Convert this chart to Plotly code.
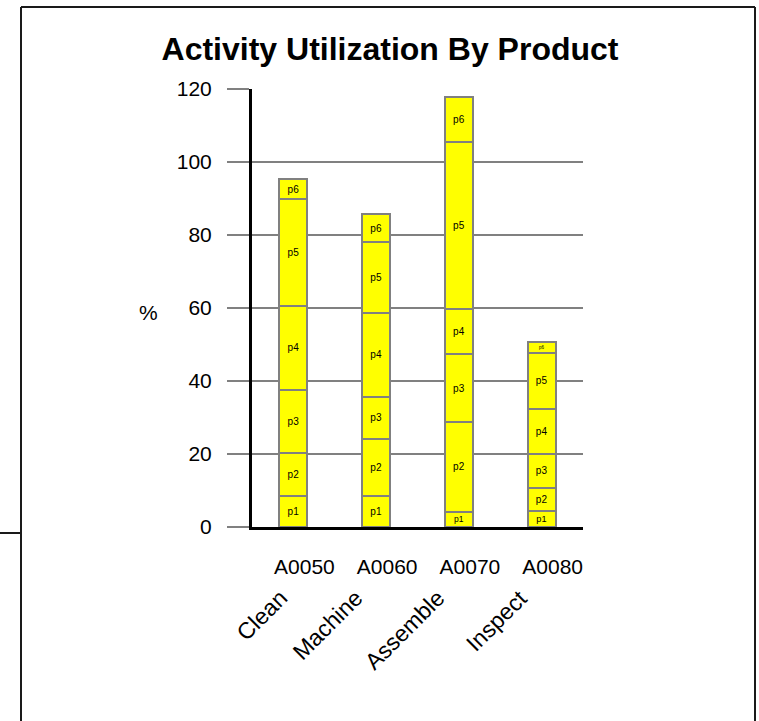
import plotly.graph_objects as go

# Activities (category codes and their names)
codes = ["A0050", "A0060", "A0070", "A0080"]
names = ["Clean", "Machine", "Assemble", "Inspect"]

# Utilization (%) contributed by each product, per activity
products = ["p1", "p2", "p3", "p4", "p5", "p6"]
p1 = [8.6, 8.6, 4.2, 4.4]
p2 = [11.6, 15.5, 24.6, 6.4]
p3 = [17.3, 11.6, 18.5, 9.2]
p4 = [23.1, 23.0, 12.4, 12.3]
p5 = [29.2, 19.3, 45.9, 15.5]
p6 = [5.5, 7.8, 12.3, 3.0]
series = [p1, p2, p3, p4, p5, p6]

y_ticks = [0, 20, 40, 60, 80, 100, 120]

W, H = 759, 721
L, R, T, B = 252, 176, 89, 194
PW, PH = W - L - R, H - T - B


def px_x(px):
    return (px - L) / PW


def px_y(py):
    return (H - B - py) / PH


fig = go.Figure()
for name, vals in zip(products, series):
    fig.add_trace(go.Bar(
        x=codes, y=vals, name=name,
        text=[name] * len(vals),
        textposition="inside", insidetextanchor="middle", textangle=0,
        textfont=dict(family="Liberation Sans, Arial, sans-serif", size=10, color="#000000"),
        marker=dict(color="#FFFF00", line=dict(color="#808080", width=2)),
        showlegend=False,
    ))

axis_font = dict(family="Liberation Sans, Arial, sans-serif", size=21, color="#000000")
name_font = dict(family="Liberation Sans, Arial, sans-serif", size=23, color="#000000")

fig.update_layout(
    width=W, height=H,
    margin=dict(l=L, r=R, t=T, b=B, pad=0),
    barmode="stack", bargap=0.66,
    paper_bgcolor="#FFFFFF", plot_bgcolor="#FFFFFF",
    font=axis_font,
    title=dict(
        text="<b>Activity Utilization By Product</b>",
        x=390 / W, xref="container", xanchor="center",
        y=1 - 49 / H, yref="container", yanchor="middle",
        font=dict(family="Liberation Sans, Arial, sans-serif", size=32, color="#000000"),
    ),
    xaxis=dict(
        type="category", range=[-0.5, 3.5],
        showline=True, linecolor="#000000", linewidth=3,
        showgrid=False, ticks="", tickfont=axis_font,
        ticklabelshift=11, ticklabelstandoff=19,
    ),
    yaxis=dict(
        range=[0, 120], tickvals=y_ticks,
        showline=True, linecolor="#000000", linewidth=3,
        showgrid=True, gridcolor="#808080", gridwidth=1.5,
        ticks="outside", ticklen=22, tickcolor="#808080", tickwidth=1.5,
        tickfont=axis_font, ticklabelstandoff=11,
        zeroline=False,
    ),
)

# "%" axis caption
fig.add_annotation(
    text="%", xref="paper", yref="paper", x=px_x(148), y=px_y(312),
    xanchor="center", yanchor="middle", showarrow=False, font=axis_font,
)

# Rotated activity names under the codes, anchored at their upper-right end
name_nudge = {"Clean": 2, "Machine": -6, "Assemble": -7, "Inspect": -7}
for code, nm in zip(codes, names):
    fig.add_annotation(
        text=nm, xref="x", x=code, yref="paper", y=px_y(582),
        xanchor="right", yanchor="top", textangle=-45, xshift=name_nudge[nm],
        showarrow=False, font=name_font,
    )

# Outer frame
frame = dict(color="#1a1a1a", width=2)
fig.add_shape(type="line", xref="paper", yref="paper",
              x0=px_x(21), x1=px_x(21), y0=px_y(7), y1=px_y(730), line=frame)
fig.add_shape(type="line", xref="paper", yref="paper",
              x0=px_x(21), x1=px_x(755), y0=px_y(7), y1=px_y(7), line=frame)
fig.add_shape(type="line", xref="paper", yref="paper",
              x0=px_x(755), x1=px_x(755), y0=px_y(7), y1=px_y(730), line=frame)
fig.add_shape(type="line", xref="paper", yref="paper",
              x0=px_x(-5), x1=px_x(21), y0=px_y(533), y1=px_y(533), line=frame)

fig.write_html("out.html")
